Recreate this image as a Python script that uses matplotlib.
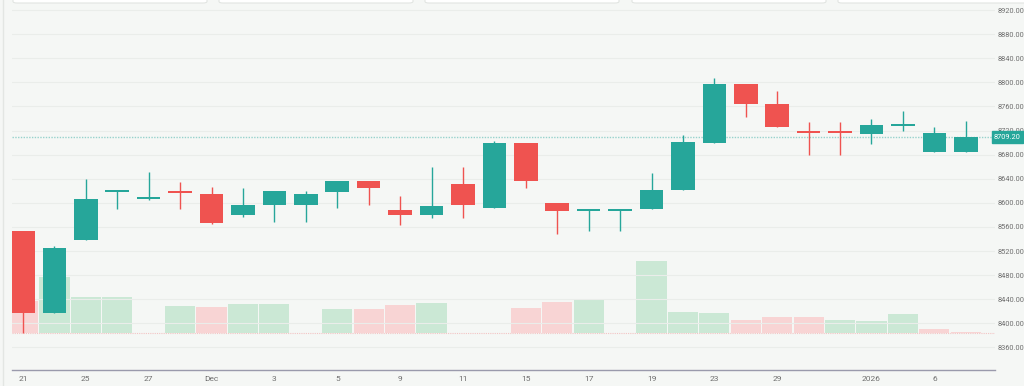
import numpy as np
import matplotlib.pyplot as plt
from matplotlib.patches import FancyBboxPatch
from matplotlib.lines import Line2D

# daily candles, 21 Nov 2025 - 7 Jan 2026
dates = ['21', '24', '25', '26', '27', '28', 'Dec', '2', '3', '4', '5', '8', '9', '10',
         '11', '12', '15', '16', '17', '18', '19', '22', '23', '24', '29', '30', '31',
         '2026', '5', '6', '7']
tick_labels = ['21', '', '25', '', '27', '', 'Dec', '', '3', '', '5', '', '9', '',
               '11', '', '15', '', '17', '', '19', '', '23', '', '29', '', '',
               '2026', '', '6', '']

opens = [8554, 8417, 8538, 8618, 8607, 8618, 8615, 8580, 8596, 8596, 8618, 8636, 8588, 8580,
         8632, 8592, 8699, 8600, 8586, 8586, 8589, 8622, 8700, 8797, 8764, 8719, 8719,
         8715, 8727, 8684, 8684]
highs = [8554, 8528, 8640, 8620, 8651, 8635, 8627, 8624, 8620, 8620, 8636, 8636, 8612, 8660,
         8660, 8703, 8699, 8600, 8590, 8588, 8650, 8712, 8807, 8797, 8786, 8734, 8734,
         8739, 8752, 8725, 8735]
lows = [8384, 8417, 8538, 8590, 8604, 8590, 8564, 8577, 8568, 8568, 8592, 8596, 8563, 8575,
        8575, 8592, 8624, 8549, 8554, 8554, 8589, 8622, 8700, 8743, 8726, 8680, 8680,
        8697, 8720, 8684, 8684]
closes = [8417, 8525, 8607, 8620, 8609, 8616, 8566, 8597, 8619, 8614, 8636, 8625, 8580, 8594,
          8596, 8699, 8636, 8586, 8590, 8588, 8622, 8701, 8797, 8764, 8726, 8716, 8716,
          8729, 8729, 8716, 8709.2]

volumes = [32, 56, 36, 36, 0, 27, 26, 29, 29, 0, 24, 24, 28, 30, 0, 0, 25, 31, 34, 0,
           72, 21, 20, 13, 16, 16, 13, 12, 19, 4, 1.3]
volume_up = [0, 1, 1, 1, 0, 1, 0, 1, 1, 0, 1, 0, 0, 1, 0, 0, 0, 0, 1, 0,
             1, 1, 1, 0, 0, 0, 1, 1, 1, 0, 0]

last_price = 8709.20
price_ticks = np.arange(8360, 8921, 40)

UP = '#26a69a'
DOWN = '#ef5350'
BG = '#f5f7f5'

o = np.array(opens, dtype=float)
c = np.array(closes, dtype=float)
x = np.arange(len(opens))
up = c >= o
col = np.where(up, UP, DOWN)

fig = plt.figure(figsize=(10.24, 3.86), dpi=100, facecolor=BG)
W, H = 1024, 386
ax_vol = fig.add_axes([12 / W, 16 / H, 983 / W, 370 / H])
ax = ax_vol.twinx()
ax_vol.set_facecolor(BG)

# volume
vcol = np.where(np.array(volume_up) == 1, '#cbe8d5', '#f8d4d4')
ax_vol.axhline(0, color='#f3c4c4', lw=0.8, ls=(0, (1, 1)), zorder=1)
ax_vol.bar(x, volumes, width=0.96, color=vcol, zorder=2)
ax_vol.set_ylim(-37, 333)
ax_vol.set_yticks([])

# grid
for p in price_ticks:
    ax.axhline(p, color='#eaedea', lw=0.8, zorder=0)

# candles
body_lo = np.minimum(o, c)
body_h = np.maximum(np.abs(c - o), 3)
ax.vlines(x, lows, highs, color=col, lw=1, zorder=2)
ax.bar(x, body_h, bottom=body_lo, width=0.75, color=col, zorder=3)

# last price line + label
ax.axhline(last_price, color=UP, lw=1, ls=(0, (1, 1)), alpha=0.45, zorder=1)

ax.set_xlim(-0.35, 30.93)
ax.set_ylim(8322.5, 8936.6)
ax.set_yticks(price_ticks)
ax.set_yticklabels([f'{p:.2f}' for p in price_ticks])
ax.tick_params(axis='y', length=0, pad=2, labelsize=5.3, labelcolor='#6f6f6f')
for lab in ax.get_yticklabels():
    lab.set_family('Roboto')

ticks = [i for i, t in enumerate(tick_labels) if t]
ax_vol.set_xticks(ticks)
ax_vol.set_xticklabels([tick_labels[i] for i in ticks], fontsize=6, color='#6f6f6f',
                       family='Roboto')
ax_vol.tick_params(axis='x', length=0, pad=4)

for a in (ax, ax_vol):
    for s in ('top', 'left', 'right'):
        a.spines[s].set_visible(False)
ax.spines['bottom'].set_visible(False)
ax_vol.spines['bottom'].set_color('#9a9aac')
ax_vol.spines['bottom'].set_linewidth(1)

ax.text(0.999, last_price, f'{last_price:.2f}', transform=ax.get_yaxis_transform(),
        ha='left', va='center', fontsize=5.3, color='white', family='Roboto',
        bbox=dict(boxstyle='square,pad=0.3', fc=UP, ec=UP), zorder=10, clip_on=False)

# top toolbar cards and left border
for left in [13, 219, 425, 632, 838]:
    fig.add_artist(FancyBboxPatch((left / W, 1 - 3 / H), 194 / W, 20 / H,
                                  boxstyle='round,pad=0,rounding_size=0.004',
                                  transform=fig.transFigure, fc='white', ec='#e2e5e2', lw=0.8))
fig.add_artist(Line2D([3 / W, 3 / W], [0, 1], transform=fig.transFigure,
                      color='#e3e6e3', lw=1))

fig.savefig('out.png', dpi=100, facecolor=BG)
